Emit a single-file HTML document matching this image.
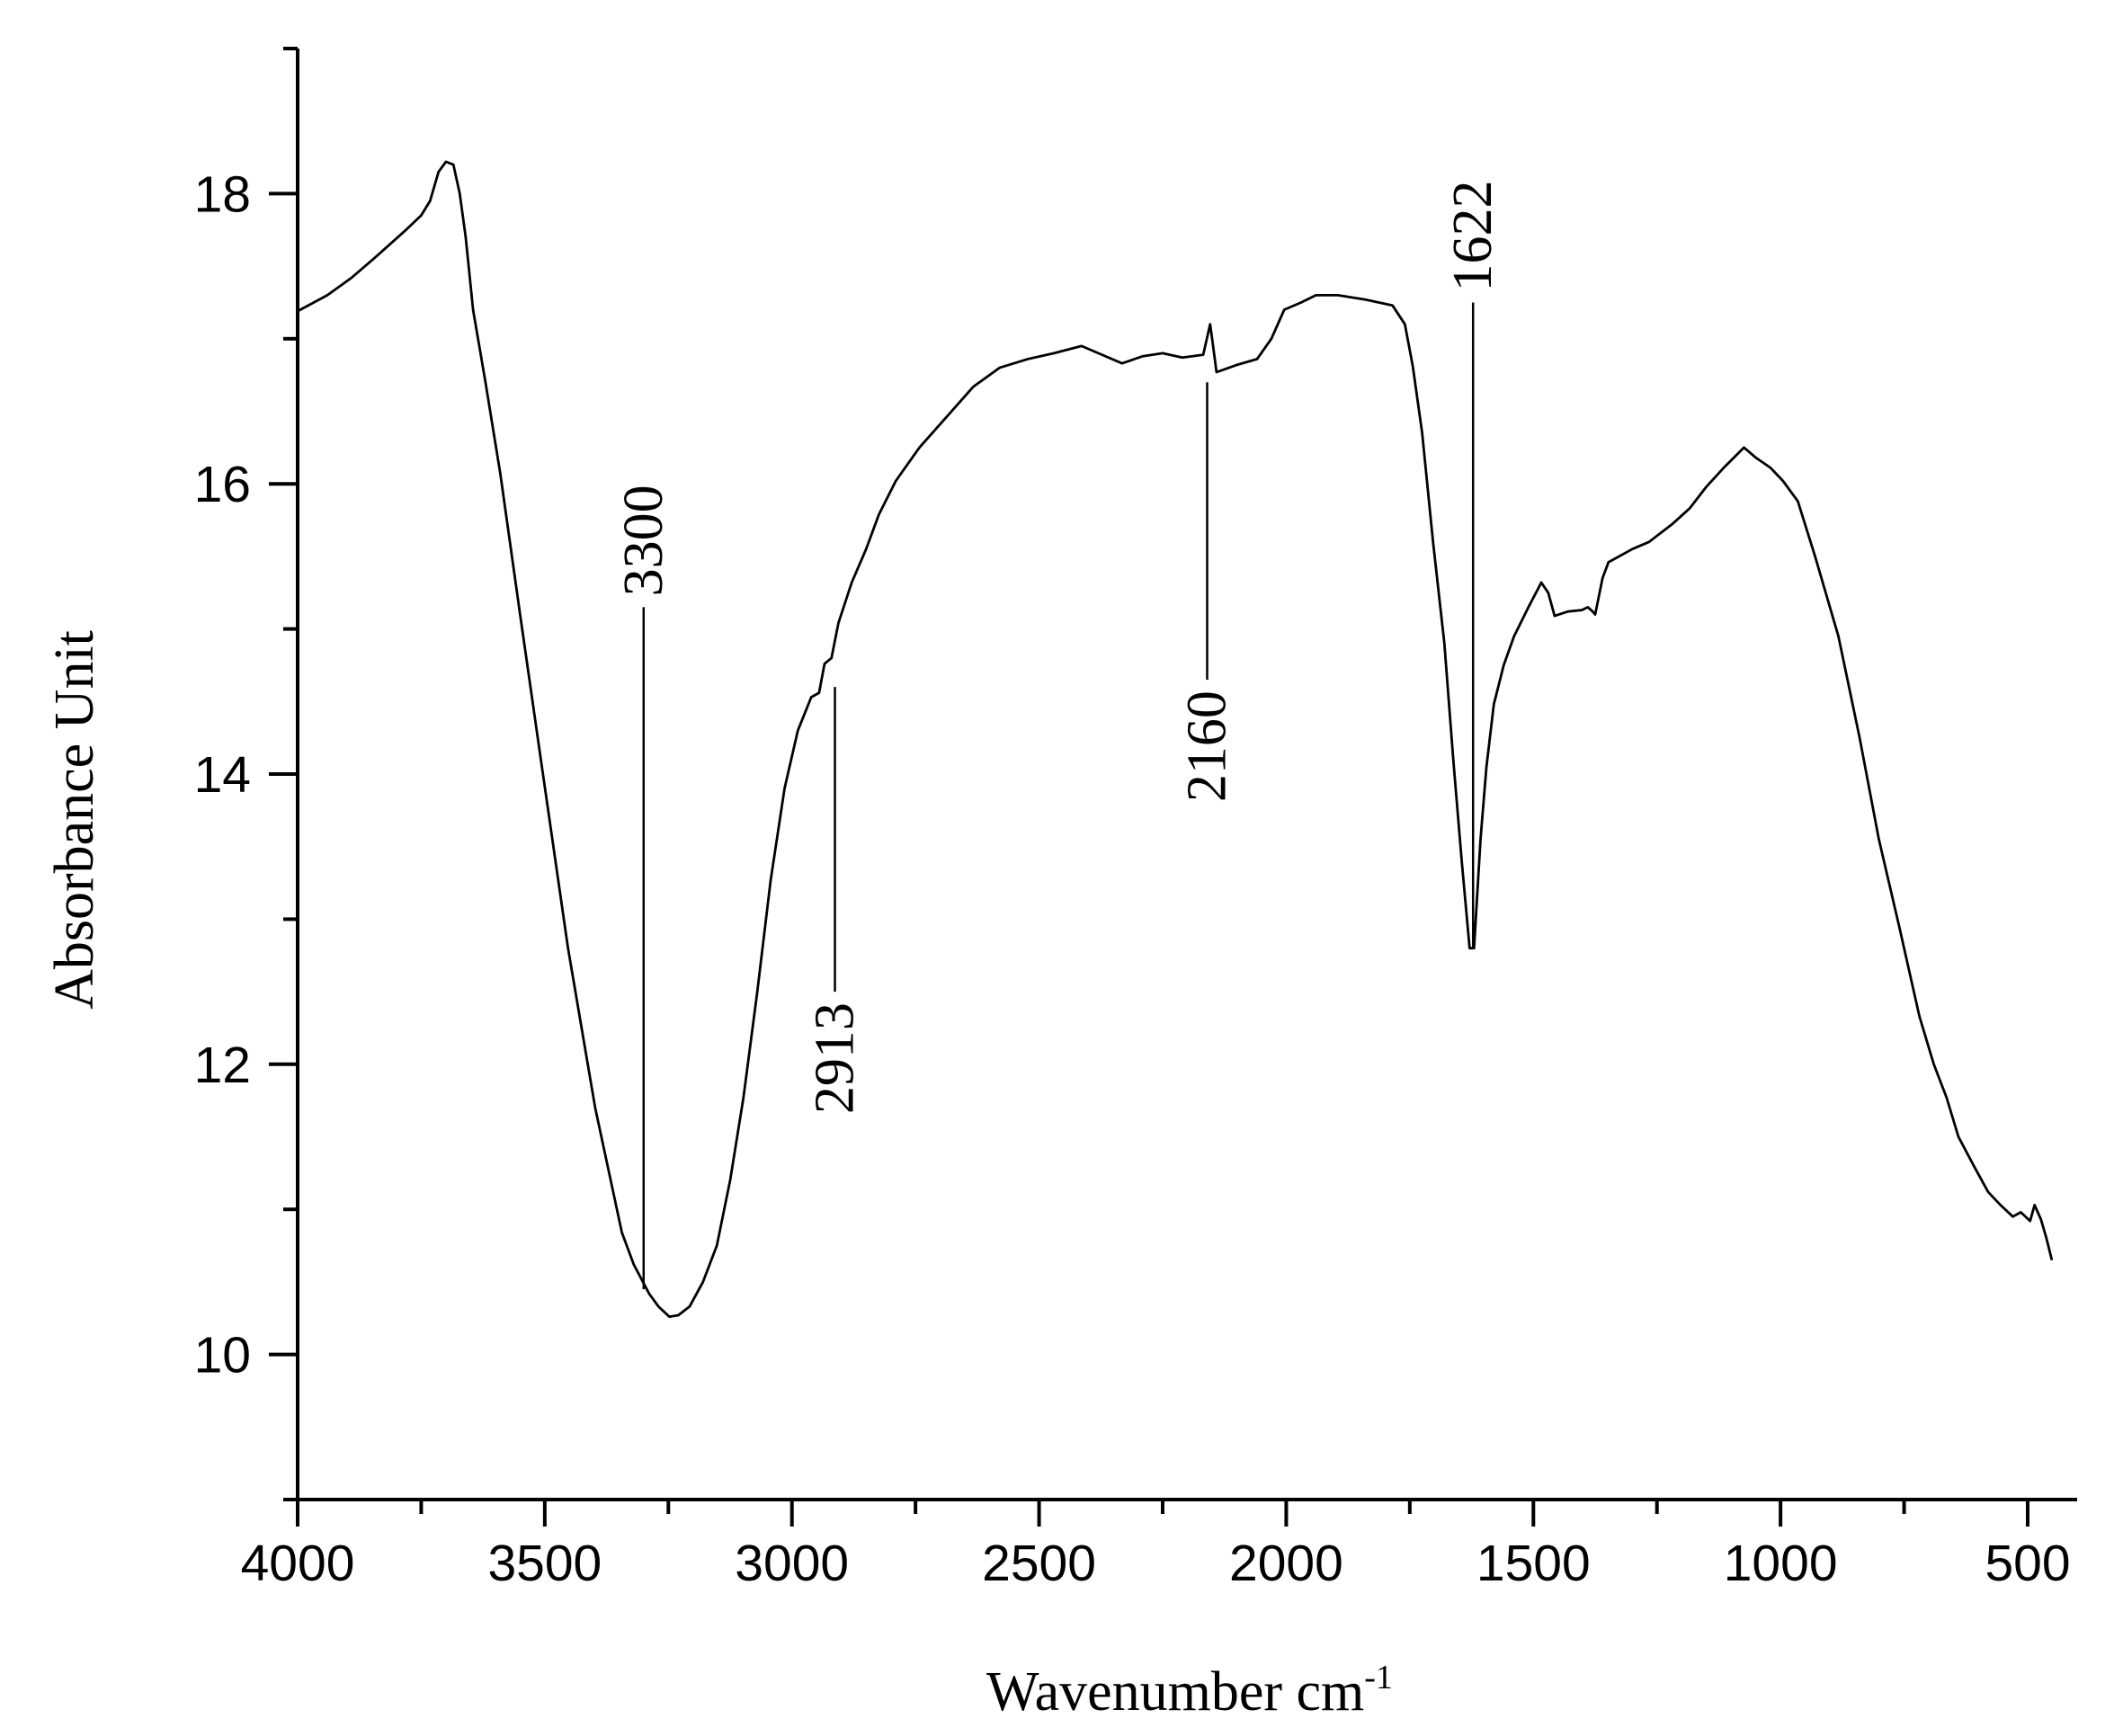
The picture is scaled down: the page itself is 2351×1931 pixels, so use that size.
<!DOCTYPE html>
<html><head><meta charset="utf-8"><style>
html,body{margin:0;padding:0;background:#fff;}
svg{display:block;}
</style></head><body>
<svg id="chart" width="2351" height="1931" viewBox="0 0 2351 1931" xmlns="http://www.w3.org/2000/svg">
<g id="axes"></g>
<g id="series"></g>
<g id="annots"></g>
<text x="0" y="0" transform="translate(103,912) rotate(-90)" text-anchor="middle" font-family="Liberation Serif, serif" font-size="62">Absorbance Unit</text>
<text x="1323" y="1902" text-anchor="middle" font-family="Liberation Serif, serif" font-size="62">Wavenumber cm<tspan dy="-24" font-size="38">-1</tspan></text>
</svg>
<script>
const wavenumbers=[4000,3940,3891,3840,3781,3750,3732,3715,3700,3685,3672,3660,3645,3620,3590,3550,3508,3453,3398,3344,3320,3289,3270,3248,3230,3207,3180,3152,3125,3098,3070,3043,3015,2988,2961,2945,2934,2920,2906,2879,2850,2824,2790,2742,2690,2633,2580,2523,2470,2414,2380,2332,2290,2250,2210,2168,2154,2148,2141,2100,2059,2030,2004,1970,1940,1895,1840,1785,1760,1744,1725,1703,1680,1662,1645,1629,1620,1607,1595,1580,1560,1539,1510,1484,1470,1457,1430,1402,1390,1380,1375,1360,1348,1300,1266,1220,1184,1150,1115,1074,1050,1020,995,965,930,883,840,801,760,719,690,664,640,609,580,555,530,514,495,486,473,462,451];
const absorbance=[17.19,17.3,17.42,17.57,17.75,17.85,17.95,18.15,18.22,18.2,18.0,17.7,17.2,16.7,16.07,15.1,14.1,12.8,11.7,10.84,10.62,10.42,10.33,10.26,10.27,10.33,10.5,10.75,11.2,11.77,12.5,13.27,13.9,14.3,14.53,14.56,14.76,14.8,15.04,15.32,15.55,15.79,16.02,16.25,16.45,16.67,16.8,16.86,16.9,16.95,16.9,16.83,16.88,16.9,16.87,16.89,17.1,16.95,16.77,16.82,16.86,17.0,17.2,17.25,17.3,17.3,17.27,17.23,17.1,16.81,16.35,15.6,14.9,14.1,13.4,12.8,12.8,13.55,14.05,14.48,14.75,14.95,15.15,15.32,15.25,15.09,15.12,15.13,15.15,15.12,15.1,15.35,15.46,15.55,15.6,15.72,15.83,15.98,16.11,16.25,16.18,16.11,16.02,15.88,15.5,14.95,14.25,13.55,12.95,12.33,12.0,11.77,11.5,11.3,11.12,11.03,10.95,10.98,10.92,11.03,10.93,10.8,10.65];
const xTicks=[4000,3500,3000,2500,2000,1500,1000,500];
const yTicks=[10,12,14,16,18];
const peakLabels=["3300","2913","2160","1622"];
const peakPositions=[3300,2913,2160,1622];
const peakLineTop=[15.15,14.6,16.7,17.25];
const peakLineBottom=[10.45,12.5,14.65,12.8];

const NS="http://www.w3.org/2000/svg";
const X0=331, PXU=(2255-331)/3500, Y0=1668, PYU=161.4;
function xs(w){return X0+(4000-w)*PXU;}
function ys(v){return Y0-(v-9)*PYU;}
function mk(tag,attrs,parent){const e=document.createElementNS(NS,tag);for(const k in attrs)e.setAttribute(k,attrs[k]);parent.appendChild(e);return e;}
const axes=document.getElementById('axes');
let a=mk('line',{x1:X0,y1:ys(19),x2:X0,y2:Y0+2,stroke:'#000','stroke-width':4},axes);


a=mk('line',{x1:X0-2,y1:Y0,x2:2310,y2:Y0,stroke:'#000','stroke-width':4},axes);


for(let w=4000;w>=500;w-=250){
  const major=w%500===0;
  const t=mk('line',{x1:xs(w),y1:Y0,x2:xs(w),y2:Y0+(major?30:16),stroke:'#000','stroke-width':4},axes);
  
  
}
xTicks.forEach(w=>{
  const t=mk('text',{x:xs(w),y:Y0+90,'text-anchor':'middle','font-family':'Liberation Sans, sans-serif','font-size':57},axes);
  t.textContent=w;
  
  
});
for(let v=9;v<=19;v+=1){
  const major=v%2===0;
  const t=mk('line',{x1:X0-(major?32:16),y1:ys(v),x2:X0,y2:ys(v),stroke:'#000','stroke-width':4},axes);
  
  
}
yTicks.forEach(v=>{
  const t=mk('text',{x:279,y:ys(v)+20,'text-anchor':'end','font-family':'Liberation Sans, sans-serif','font-size':57},axes);
  t.textContent=v;
  
  
});
const series=document.getElementById('series');
const pts=wavenumbers.map((w,i)=>xs(w).toFixed(1)+','+ys(absorbance[i]).toFixed(1)).join(' ');
const pl=mk('polyline',{points:pts,fill:'none',stroke:'#000','stroke-width':2.8,'stroke-linejoin':'round'},series);


const annots=document.getElementById('annots');
peakLabels.forEach((lab,i)=>{
  const x=xs(peakPositions[i]);
  const l=mk('line',{x1:x,y1:ys(peakLineTop[i]),x2:x,y2:ys(peakLineBottom[i]),stroke:'#000','stroke-width':2.5},annots);
  
  
  const above=i!==1&&i!==2;
  const ty=above?ys(peakLineTop[i])-12:ys(peakLineBottom[i])+12;
  const t=mk('text',{x:0,y:0,transform:'translate('+(x+20)+','+ty+') rotate(-90)','text-anchor':above?'start':'end','font-family':'Liberation Serif, serif','font-size':62},annots);
  t.textContent=lab;
  
  
});
</script>
</body></html>
